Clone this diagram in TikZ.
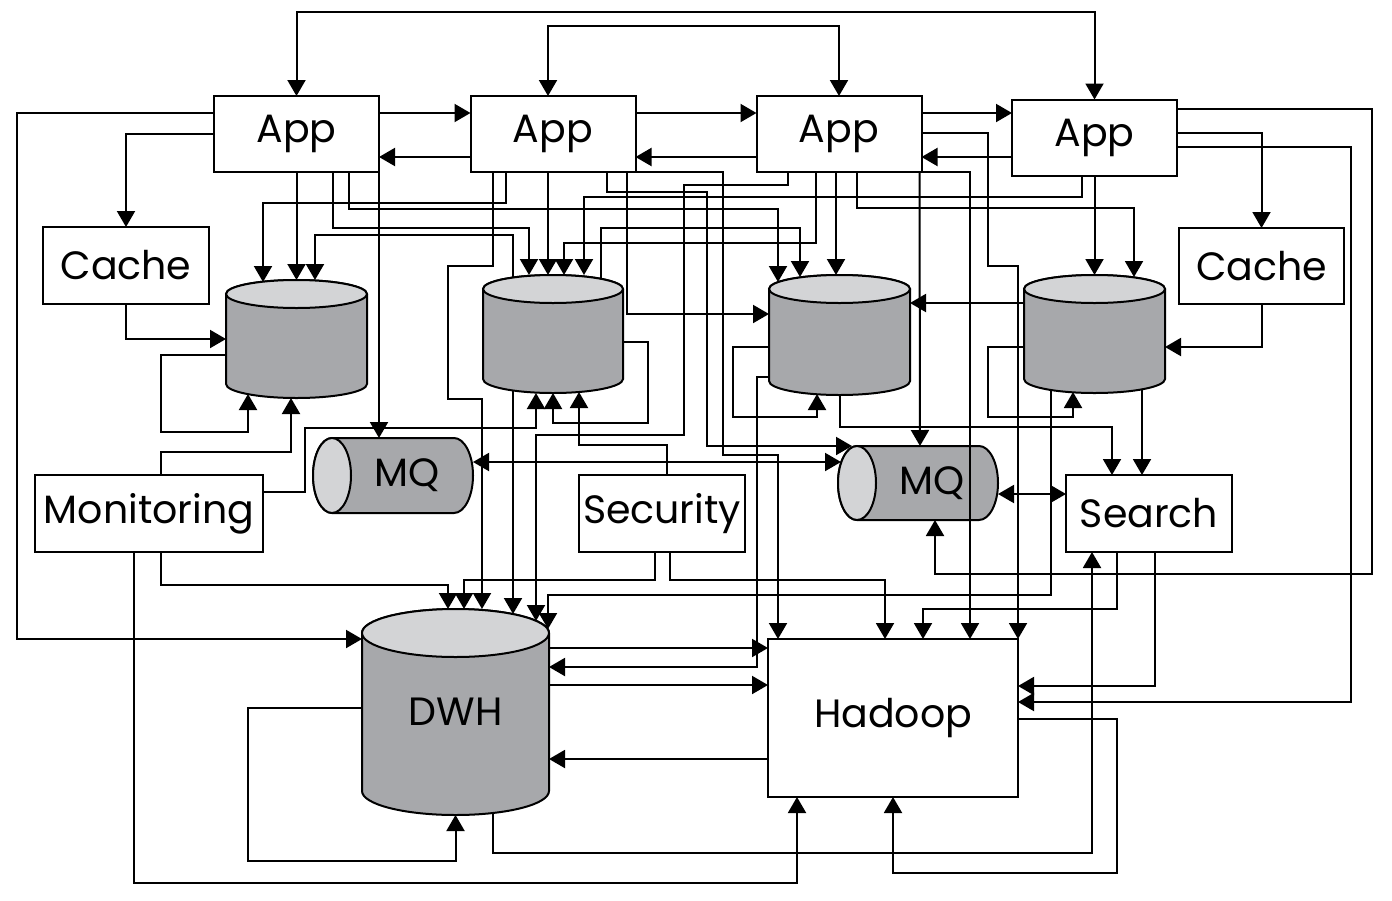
\documentclass[tikz,border=0pt]{standalone}
\usepackage{fontspec}
\setmainfont{Poppins}
\usetikzlibrary{positioning,arrows.meta,calc,backgrounds}

\definecolor{dbgray}{HTML}{A7A8AB}
\definecolor{dblight}{HTML}{D3D4D6}

\tikzset{
  box/.style={draw, line width=2pt, fill=white, inner sep=0pt, outer sep=0pt,
              font=\fontsize{39.5}{48}\selectfont},
  appbox/.style={box, minimum width=165pt, minimum height=76pt},
  store/.style={inner sep=0pt, outer sep=0pt, font=\fontsize{39.5}{48}\selectfont},
  dbbody/.style={fill=dbgray, draw, line width=2pt},
  dbtop/.style={fill=dblight, draw, line width=2pt},
  link/.style={line width=2pt, ->},
}

% upright cylinder: node, x radius, y radius
\newcommand{\dbshape}[3]{%
  \path[dbbody] ($(#1.north west)+(0pt,-#3)$) -- ($(#1.south west)+(0pt,#3)$)
    arc[start angle=180, end angle=360, x radius=#2, y radius=#3]
    -- ($(#1.north east)+(0pt,-#3)$)
    arc[start angle=0, end angle=180, x radius=#2, y radius=#3] -- cycle;
  \path[dbtop] ($(#1.north)+(0pt,-#3)$) ellipse[x radius=#2, y radius=#3];
}
% lying cylinder: node, x radius, y radius
\newcommand{\mqshape}[3]{%
  \path[dbbody] ($(#1.north west)+(#2,0pt)$) -- ($(#1.north east)+(-#2,0pt)$)
    arc[start angle=90, end angle=-90, x radius=#2, y radius=#3]
    -- ($(#1.south west)+(#2,0pt)$)
    arc[start angle=270, end angle=90, x radius=#2, y radius=#3] -- cycle;
  \path[dbtop] ($(#1.west)+(#2,0pt)$) ellipse[x radius=#2, y radius=#3];
}

\begin{document}
\begin{tikzpicture}[x=1pt, y=-1pt, >={Triangle[length=16pt,width=18pt]}]
	\useasboundingbox (0,0) rectangle (1392,900);

	% apps
	\node[appbox] (app1) at (296.5,134) {App};
	\node[appbox] (app2) at (553,134) {App};
	\node[appbox] (app3) at (839,134) {App};
	\node[appbox] (app4) at (1094.5,137.5) {App};

	\node[box, minimum width=166pt, minimum height=77pt] (cache1) at (126,265.5) {Cache};
	\node[box, minimum width=165pt, minimum height=76pt] (cache2) at (1261.5,266) {Cache};
	\node[box, minimum width=228pt, minimum height=77pt] (monitoring) at (149,513.5) {Monitoring};
	\node[box, minimum width=166pt, minimum height=77pt] (security) at (662,513.5) {Security};
	\node[box, minimum width=166pt, minimum height=77pt] (search) at (1149,513.5) {Search};
	\node[box, minimum width=250pt, minimum height=158pt] (hadoop) at (893,718) {Hadoop};

	% stores
	\node[store, minimum width=141pt, minimum height=118pt] (db1) at (296.5,339) {};
	\node[store, minimum width=140pt, minimum height=118pt] (db2) at (553,334) {};
	\node[store, minimum width=141pt, minimum height=120pt] (db3) at (839.5,335) {};
	\node[store, minimum width=141pt, minimum height=118pt] (db4) at (1094.5,334) {};
	\node[store, minimum width=187pt, minimum height=206pt] (dwh) at (455.5,712) {DWH};
	\node[store, minimum width=160pt, minimum height=75pt] (mq1) at (393,475.5) {\hspace*{28pt}MQ};
	\node[store, minimum width=160pt, minimum height=74pt] (mq2) at (918,483) {\hspace*{28pt}MQ};

	\begin{scope}[on background layer]
		\dbshape{db1}{70.5pt}{14pt}
		\dbshape{db2}{70pt}{14pt}
		\dbshape{db3}{70.5pt}{14pt}
		\dbshape{db4}{70.5pt}{14pt}
		\dbshape{dwh}{93.5pt}{24pt}
		\mqshape{mq1}{19pt}{37.5pt}
		\mqshape{mq2}{19pt}{37pt}
	\end{scope}

	% app to app
	\draw[link,<->] (app1.north) -- ++(0,-84) -| (app4.north);
	\draw[link,<->] ([xshift=-5pt]app2.north) -- ++(0,-70) -| (app3.north);
	\draw[link] ([yshift=21pt]app1.east) -- ([yshift=21pt]app2.west);
	\draw[link] ([yshift=-23pt]app2.west) -- ([yshift=-23pt]app1.east);
	\draw[link] ([yshift=21pt]app2.east) -- ([yshift=21pt]app3.west);
	\draw[link] ([yshift=-23pt]app3.west) -- ([yshift=-23pt]app2.east);
	\draw[link] ([yshift=21pt]app3.east) -- ([yshift=24.5pt]app4.west);
	\draw[link] ([yshift=-19.5pt]app4.west) -- ([yshift=-23pt]app3.east);

	% app 1
	\draw[link] ([yshift=21pt]app1.west) -- ++(-197,0) |- ([yshift=73pt]dwh.west);
	\draw[link] (app1.west) -| (cache1.north);
	\draw[link] (app1.south) -- (db1.north);
	\draw[link] ([xshift=36.5pt]app1.south) -- ++(0,56) -| ([xshift=-24pt]db2.north);
	\draw[link] ([xshift=52.5pt]app1.south) -- ++(0,37) -| ([xshift=-61.5pt,yshift=-7pt]db3.north);
	\draw[link] (app1.south east) -- ([xshift=-14pt]mq1.north);

	% app 2
	\draw[link] ([xshift=-47pt]app2.south) -- ++(0,31) -| ([xshift=-33.5pt,yshift=-2pt]db1.north);
	\draw[link] ([xshift=-60pt]app2.south) -- ++(0,94) -- ++(-45,0) -- ++(0,133)
		-| ([xshift=26.5pt]dwh.north);
	\draw[link] ([xshift=-5pt]app2.south) -- ([xshift=-5pt]db2.north);
	\draw[link] ([xshift=74pt]app2.south) |- ([yshift=21pt]db3.west);
	\draw[link] (app2.south east) -- ++(87,0) -- ++(0,283) -| ([xshift=-115pt]hadoop.north);
	\draw[link] ([xshift=54pt]app2.south) -- ++(0,20) -- ++(100,0) |- ([xshift=-66pt]mq2.north);

	% app 3
	\draw[link] ([xshift=-51pt]app3.south) -- ++(0,13) -- ++(-104,0) -- ++(0,250)
		-| ([xshift=80.5pt,yshift=-12pt]dwh.north);
	\draw[link] ([xshift=-23pt]app3.south) -- ++(0,71) -| ([xshift=11pt]db2.north);
	\draw[link] ([xshift=-3pt]app3.south) -- ([xshift=-3.5pt]db3.north);
	\draw[link] ([xshift=18pt]app3.south) -- ++(0,36) -| ([xshift=39.5pt,yshift=-2pt]db4.north);
	\draw[link] ([xshift=-2pt]app3.south east) -- ([xshift=2pt]mq2.north);
	\draw[link] (app3.south east) -| ([xshift=77pt]hadoop.north);
	\draw[link] ([yshift=1pt]app3.east) -- ++(66,0) -- ++(0,133) -| (hadoop.north east);

	% app 4
	\draw[link] ([xshift=-12.5pt]app4.south) -- ++(0,21) -| ([xshift=31pt]db2.north);
	\draw[link] (app4.south) -- (db4.north);
	\draw[link] ([yshift=4.5pt]app4.east) -| (cache2.north);
	\draw[link] ([yshift=28.5pt]app4.east) -- ++(195,0) -- ++(0,465) -| ([xshift=17pt]mq2.south);
	\draw[link] ([yshift=-9.5pt]app4.east) -- ++(174,0) |- ([yshift=16pt]hadoop.east);

	% caches and stores
	\draw[link] (cache1.south) |- (db1.west);
	\draw[link] ([yshift=-16pt]db1.west) -- ++(-65,0) -- ++(0,77) -| ([xshift=-48.5pt,yshift=4pt]db1.south);
	\draw[link] ([xshift=-40pt,yshift=-2pt]db2.north) -- ++(0,-42) -| ([xshift=18.5pt]db1.north);
	\draw[link] ([xshift=48pt,yshift=-4pt]db2.north) -- ++(0,-51) -| ([xshift=-39.5pt,yshift=-2pt]db3.north);
	\draw[link] ([yshift=-8pt]db2.east) -- ++(25,0) -- ++(0,81) -| (db2.south);
	\draw[link] ([xshift=-40pt,yshift=2pt]db2.south) -- ([xshift=57.5pt,yshift=-5pt]dwh.north);
	\draw[link] ([yshift=-42pt]db3.west) -- ++(-12,0) |- ([yshift=45pt]dwh.east);
	\draw[link] ([yshift=-12pt]db3.west) -- ++(-36,0) -- ++(0,70) -| ([xshift=-22.5pt,yshift=1pt]db3.south);
	\draw[link] (db3.south) -- ++(0,32) -| ([xshift=-37pt]search.north);
	\draw[link] ([yshift=31pt]db4.west) -- ([yshift=32pt]db3.east);
	\draw[link] ([yshift=-13pt]db4.west) -- ++(-36,0) -- ++(0,70) -| ([xshift=-21.5pt,yshift=1pt]db4.south);
	\draw[link] (cache2.south) |- ([yshift=-13pt]db4.east);
	\draw[link] ([xshift=47.5pt,yshift=4pt]db4.south) -- ([xshift=-7pt]search.north);
	\draw[link] ([xshift=-43.5pt,yshift=3pt]db4.south) -- ++(0,205) -| ([xshift=-1pt,yshift=-20pt]dwh.north east);

	% queues
	\draw[link,<->] ([yshift=13.5pt]mq1.east) -- ([xshift=3pt,yshift=21pt]mq2.west);
	\draw[link,<->] ([yshift=-11pt]mq2.east) -- ([yshift=19.5pt]search.west);

	% monitoring and security
	\draw[link] ([xshift=12pt]monitoring.north) -- ++(0,-23) -| ([xshift=-5.5pt]db1.south);
	\draw[link] ([yshift=21.5pt]monitoring.east) -- ++(42,0) -- ++(0,-64) -| ([xshift=-17pt]db2.south);
	\draw[link] ([xshift=12pt]monitoring.south) -- ++(0,33) -| ([xshift=-7.5pt]dwh.north);
	\draw[link] ([xshift=-15pt]monitoring.south) -- ++(0,331) -| ([xshift=-96pt]hadoop.south);
	\draw[link] ([xshift=5pt]security.north) -- ++(0,-30) -| ([xshift=26pt,yshift=1pt]db2.south);
	\draw[link] ([xshift=-7pt]security.south) -- ++(0,28) -| ([xshift=8.5pt]dwh.north);
	\draw[link] ([xshift=8pt]security.south) -- ++(0,28) -| ([xshift=-8pt]hadoop.north);

	% dwh, hadoop, search
	\draw[link] ([yshift=64pt]dwh.east) -- ([yshift=70pt]hadoop.west);
	\draw[link] ([yshift=27pt]dwh.east) -- ([yshift=33pt]hadoop.west);
	\draw[link] ([yshift=-41pt]hadoop.west) -- ([yshift=-47pt]dwh.east);
	\draw[link] ([yshift=4pt]dwh.west) -- ++(-114,0) -- ++(0,153) -| (dwh.south);
	\draw[link] ([xshift=37.5pt,yshift=2pt]dwh.south) -- ++(0,40) -| ([xshift=-57pt]search.south);
	\draw[link] ([yshift=-1pt]hadoop.east) -- ++(99,0) -- ++(0,154) -| (hadoop.south);
	\draw[link] ([xshift=-32pt]search.south) -- ++(0,57) -| ([xshift=30pt]hadoop.north);
	\draw[link] ([xshift=6pt]search.south) |- ([yshift=32pt]hadoop.east);
\end{tikzpicture}
\end{document}
